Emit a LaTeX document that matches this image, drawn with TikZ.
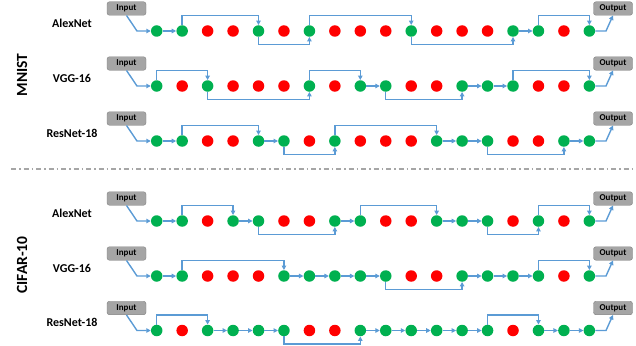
\documentclass[tikz,border=0pt]{standalone}
\usepackage{fontspec}
\setmainfont{Carlito}
\usetikzlibrary{arrows.meta}
\definecolor{G}{HTML}{00B050}
\definecolor{R}{HTML}{FF0000}
\definecolor{lnk}{HTML}{5B9BD5}
\definecolor{boxf}{HTML}{A5A5A5}
\definecolor{boxd}{HTML}{7F7F7F}
\tikzset{
  dot/.style={circle,minimum size=11.5pt,inner sep=0pt},
  io/.style={draw=boxd,fill=boxf,rounded corners=2.5pt,minimum width=39pt,minimum height=13.5pt,inner sep=0pt,font=\fontsize{9}{10}\selectfont\bfseries},
  lab/.style={font=\fontsize{12}{13}\selectfont\bfseries},
  dslab/.style={font=\fontsize{15.5}{17}\selectfont\bfseries,rotate=90},
  link/.style={draw=lnk,line width=1.4pt,-{Triangle[length=4.5pt,width=4.5pt]}},
  sep/.style={draw=black!35,line width=1.1pt,dash pattern=on 5pt off 3pt on 1.5pt off 3pt},
}
\newcommand\netrow[4]{%
  \node[lab] (lab#1) at (72,#2-8) {#3};
  \node[io] (in#1) at (126.5,#2-22.5) {Input};
  \node[io] (out#1) at (613,#2-22.5) {Output};
  \foreach \c [count=\i] in {#4} {\node[dot,fill=\c] (r#1d\i) at ({156.7+(\i-1)*25.45},#2) {};}
  \coordinate (top#1) at (0,#2-15.5);
  \coordinate (bot#1) at (0,#2+13.5);
  \coordinate (ia#1) at (137,#2);
  \coordinate (ob#1) at (606,#2);
  \draw[link] (in#1.south) -- (ia#1) -- (r#1d1);
  \draw[link] (r#1d18) -- (ob#1) -- (out#1.south);
}
\newcommand\adj[3]{\draw[link] (r#1d#2) -- (r#1d#3);}
\newcommand\jumpup[3]{\draw[link] (r#1d#2.north) -- (r#1d#2 |- top#1) -| (r#1d#3.north);}
\newcommand\jumpdn[3]{\draw[link] (r#1d#2.south) -- (r#1d#2 |- bot#1) -| (r#1d#3.south);}
\begin{document}
\begin{tikzpicture}[x=1pt,y=-1pt]
\useasboundingbox (0,0) rectangle (636,345);
\node[dslab] (mnist) at (22,75) {MNIST};
\node[dslab] (cifar) at (22,265) {CIFAR-10};
\coordinate (sepa) at (11,169);
\coordinate (sepb) at (636,169);
\draw[sep] (sepa) -- (sepb);
% Row 1: MNIST AlexNet
\netrow{1}{31}{AlexNet}{G,G,R,R,G,R,G,R,R,R,G,R,R,R,G,G,R,G}
\adj{1}{1}{2}\jumpup{1}{2}{5}\jumpdn{1}{5}{7}\jumpup{1}{7}{11}\jumpdn{1}{11}{15}\adj{1}{15}{16}\jumpup{1}{16}{18}
% Row 2: MNIST VGG-16
\netrow{2}{86}{VGG-16}{G,R,G,R,R,R,G,R,G,G,R,R,G,G,G,R,R,G}
\jumpup{2}{1}{3}\jumpdn{2}{3}{7}\jumpup{2}{7}{9}\adj{2}{9}{10}\jumpdn{2}{10}{13}\adj{2}{13}{14}\adj{2}{14}{15}\jumpup{2}{15}{18}
% Row 3: MNIST ResNet-18
\netrow{3}{141}{ResNet-18}{G,G,R,R,G,G,R,G,R,R,R,G,G,G,R,R,G,G}
\adj{3}{1}{2}\jumpup{3}{2}{5}\adj{3}{5}{6}\jumpdn{3}{6}{8}\jumpup{3}{8}{12}\adj{3}{12}{13}\adj{3}{13}{14}\jumpdn{3}{14}{17}\adj{3}{17}{18}
% Row 4: CIFAR AlexNet
\netrow{4}{221}{AlexNet}{G,G,R,G,G,R,R,G,G,R,R,G,G,G,R,G,R,G}
\adj{4}{1}{2}\jumpup{4}{2}{4}\adj{4}{4}{5}\jumpdn{4}{5}{8}\adj{4}{8}{9}\jumpup{4}{9}{12}\adj{4}{12}{13}\adj{4}{13}{14}\jumpdn{4}{14}{16}\jumpup{4}{16}{18}
% Row 5: CIFAR VGG-16
\netrow{5}{276}{VGG-16}{G,G,R,R,R,G,G,G,G,G,R,R,G,G,G,G,R,G}
\adj{5}{1}{2}\jumpup{5}{2}{6}\adj{5}{6}{7}\adj{5}{7}{8}\adj{5}{8}{9}\adj{5}{9}{10}\jumpdn{5}{10}{13}\adj{5}{13}{14}\adj{5}{14}{15}\adj{5}{15}{16}\jumpup{5}{16}{18}
% Row 6: CIFAR ResNet-18
\netrow{6}{330.5}{ResNet-18}{G,R,G,G,G,G,R,R,G,G,G,G,G,G,R,G,G,G}
\jumpup{6}{1}{3}\adj{6}{3}{4}\adj{6}{4}{5}\adj{6}{5}{6}\jumpdn{6}{6}{9}\adj{6}{9}{10}\adj{6}{10}{11}\adj{6}{11}{12}\adj{6}{12}{13}\adj{6}{13}{14}\jumpup{6}{14}{16}\adj{6}{16}{17}\adj{6}{17}{18}
\end{tikzpicture}
\end{document}
